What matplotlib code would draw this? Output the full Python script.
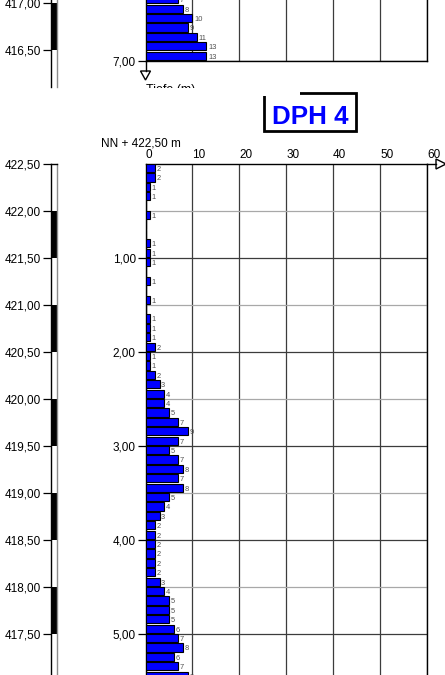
import matplotlib
matplotlib.use('Agg')
import matplotlib.pyplot as plt
from matplotlib.patches import Rectangle, Polygon
from matplotlib.ticker import FixedLocator

plt.rcParams['font.family'] = ['Liberation Sans', 'DejaVu Sans']

# ---------------- data ----------------
# DPH 4 : blows per 10 cm, interval top depth (m)
dph4_depth_top = [0.0, 0.1, 0.2, 0.3, 0.4, 0.5, 0.6, 0.7, 0.8, 0.9,
                  1.0, 1.1, 1.2, 1.3, 1.4, 1.5, 1.6, 1.7, 1.8, 1.9,
                  2.0, 2.1, 2.2, 2.3, 2.4, 2.5, 2.6, 2.7, 2.8, 2.9,
                  3.0, 3.1, 3.2, 3.3, 3.4, 3.5, 3.6, 3.7, 3.8, 3.9,
                  4.0, 4.1, 4.2, 4.3, 4.4, 4.5, 4.6, 4.7, 4.8, 4.9,
                  5.0, 5.1, 5.2, 5.3, 5.4]
dph4_blows = [2, 2, 1, 1, 0, 1, 0, 0, 1, 1,
              1, 0, 1, 0, 1, 0, 1, 1, 1, 2,
              1, 1, 2, 3, 4, 4, 5, 7, 9, 7,
              5, 7, 8, 7, 8, 5, 4, 3, 2, 2,
              2, 2, 2, 2, 3, 4, 5, 5, 5, 6,
              7, 8, 6, 7, 9]
dph4_ground = 422.50
dph4_title = "DPH 4"
dph4_ground_label = "NN + 422,50 m"

# previous probe (only its lower end visible)
prev_depth_top = [6.3, 6.4, 6.5, 6.6, 6.7, 6.8, 6.9]
prev_blows = [7, 8, 10, 9, 11, 13, 13]
prev_end_depth = 7.0

x_ticks = [0, 10, 20, 30, 40, 50, 60]
x_ticklabels = ["0", "10", "20", "30", "40", "50", "60"]
depth_ticks = [1.0, 2.0, 3.0, 4.0, 5.0]
depth_ticklabels = ["1,00", "2,00", "3,00", "4,00", "5,00"]
depth_minor = [0.5, 1.5, 2.5, 3.5, 4.5, 5.5]

elev_ticks = [422.5, 422.0, 421.5, 421.0, 420.5, 420.0, 419.5, 419.0, 418.5, 418.0, 417.5]
elev_ticklabels = ["422,50", "422,00", "421,50", "421,00", "420,50", "420,00",
                   "419,50", "419,00", "418,50", "418,00", "417,50"]
col_tops = [422.5, 422.0, 421.5, 421.0, 420.5, 420.0, 419.5, 419.0, 418.5, 418.0, 417.5]
col_colors = ["white", "black", "white", "black", "white", "black",
              "white", "black", "white", "black", "white"]

prev_elev_ticks = [417.0, 416.5]
prev_elev_ticklabels = ["417,00", "416,50"]
prev_col_tops = [417.5, 417.0, 416.5]
prev_col_colors = ["white", "black", "white"]

# ---------------- layout ----------------
W, H = 445, 675
fig = plt.figure(figsize=(W / 100, H / 100), dpi=100)

def ax_px(x0, y0, x1, y1, **kw):
    return fig.add_axes([x0 / W, 1 - y1 / H, (x1 - x0) / W, (y1 - y0) / H], **kw)

PXM = 94.0          # pixels per metre
XL, XR = 145.5, 427.0
BAR_BLUE = "#0000ff"
GRID_DARK = "#3c3c3c"
GRID_LIGHT = "#a8a8a8"
LBL = 8.5


def style_chart(ax):
    ax.set_xlim(0, 60)
    ax.xaxis.set_major_locator(FixedLocator(x_ticks))
    ax.yaxis.set_minor_locator(FixedLocator(depth_minor))
    ax.set_axisbelow(True)
    ax.grid(which='major', axis='x', color=GRID_DARK, lw=0.9)
    ax.grid(which='major', axis='y', color=GRID_DARK, lw=0.9)
    ax.grid(which='minor', axis='y', color=GRID_LIGHT, lw=0.9)
    ax.tick_params(axis='y', which='major', direction='out', length=6, width=0.9,
                   pad=1, labelsize=LBL, colors='black')
    ax.tick_params(axis='y', which='minor', length=0)
    for s in ax.spines.values():
        s.set_color('black')
        s.set_linewidth(1.0)


def draw_bars(ax, tops, blows):
    ax.barh(tops, blows, height=0.088, align='edge', color=BAR_BLUE,
            edgecolor='black', linewidth=0.8, zorder=3)
    for d, v in zip(tops, blows):
        if v > 0:
            ax.text(v + 0.35, d + 0.058, str(v), fontsize=5.4, color='#505050',
                    ha='left', va='center', zorder=4)


# ----- bottom chart (DPH 4) -----
axB = ax_px(XL, 164, XR, H)
style_chart(axB)
axB.set_ylim((H - 164) / PXM, 0)
axB.set_yticks(depth_ticks)
axB.set_yticklabels(depth_ticklabels)
axB.set_xticklabels(x_ticklabels)
axB.tick_params(axis='x', which='major', top=True, bottom=False, labeltop=True,
                labelbottom=False, length=0, pad=2.5, labelsize=LBL)
for lab in axB.get_xticklabels():
    lab.set_horizontalalignment('left')
axB.spines['bottom'].set_visible(False)
draw_bars(axB, dph4_depth_top, dph4_blows)

# ----- top chart (previous probe, lower end) -----
axT = ax_px(XL, 0, XR, 61)
style_chart(axT)
axT.set_ylim(prev_end_depth, prev_end_depth - 61 / PXM)
axT.set_yticks([7.0])
axT.set_yticklabels(["7,00"])
axT.tick_params(axis='x', which='both', length=0, labelbottom=False, labeltop=False)
axT.spines['top'].set_visible(False)
draw_bars(axT, prev_depth_top, prev_blows)


# ----- elevation columns -----
def style_col(ax, ticks, labels, tops, colors, ylim):
    ax.set_xlim(0, 1)
    ax.set_ylim(*ylim)
    for t, c in zip(tops, colors):
        ax.bar(0.5, -0.5, bottom=t, width=1, color=c, edgecolor='none', zorder=1)
    ax.set_xticks([])
    ax.set_yticks(ticks)
    ax.set_yticklabels(labels)
    ax.tick_params(axis='y', direction='out', length=6, width=0.9, pad=1,
                   labelsize=LBL, colors='black')
    ax.spines['left'].set_color('black')
    ax.spines['right'].set_color('#8c8c8c')
    ax.spines['bottom'].set_visible(False)
    for s in ax.spines.values():
        s.set_linewidth(1.0)
        s.set_zorder(3)


axC = ax_px(51, 164, 57, H)
style_col(axC, elev_ticks, elev_ticklabels, col_tops, col_colors,
          (dph4_ground - (H - 164) / PXM, dph4_ground))
axC.spines['top'].set_color('black')

axCT = ax_px(51, 0, 57, 87)
style_col(axCT, prev_elev_ticks, prev_elev_ticklabels, prev_col_tops, prev_col_colors,
          (416.5 - 37 / PXM, 417.0 + 3 / PXM))
axCT.spines['top'].set_visible(False)

# ----- decorations (overlay in pixel space) -----
ov = ax_px(0, 0, W, H, zorder=10)
ov.set_xlim(0, W)
ov.set_ylim(H, 0)
ov.axis('off')
ov.patch.set_alpha(0)

# depth axis arrow of top chart
ov.plot([XL, XL], [61, 71], color='black', lw=1.0)
ov.add_patch(Polygon([[XL - 5, 71], [XL + 5, 71], [XL, 80]], closed=True,
                     facecolor='white', edgecolor='black', lw=1.0))
ov.text(XL, 83.5, "Tiefe (m)", fontsize=9, ha='left', va='top', color='black', zorder=2)
ov.add_patch(Rectangle((100, 87.5), 200, 8, facecolor='white', edgecolor='none', zorder=6))

# x axis arrow of bottom chart
ov.plot([XR, 436], [164, 164], color='black', lw=1.0)
ov.add_patch(Polygon([[436, 159], [436, 169], [446, 164]], closed=True,
                     facecolor='white', edgecolor='black', lw=1.0, clip_on=False))

# title box
ov.add_patch(Rectangle((264, 93), 92, 38, facecolor='white', edgecolor='black', lw=2))
ov.text(310.5, 124, dph4_title, fontsize=18.7, fontweight='bold', color=BAR_BLUE,
        ha='center', va='baseline')

# ground level label
ov.text(140.5, 144, dph4_ground_label, fontsize=LBL, ha='center', va='center', color='black')

fig.savefig("out.png", dpi=100)
